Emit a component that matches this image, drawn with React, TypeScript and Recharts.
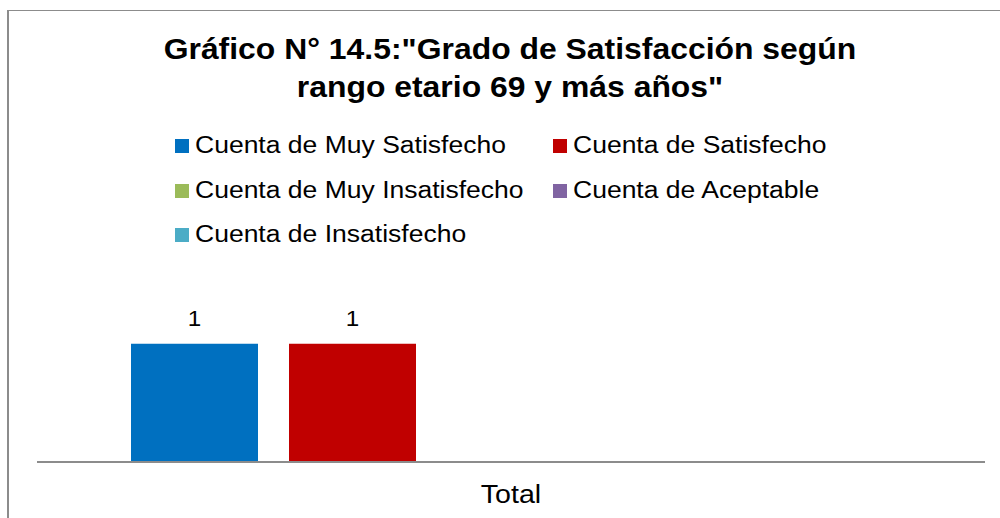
import React from 'react';
import { BarChart, Bar, XAxis, YAxis, Legend, LabelList } from 'recharts';

const categories = ['Total'];
const muySatisfecho = [1];
const satisfecho = [1];
const muyInsatisfecho = [0];
const aceptable = [0];
const insatisfecho = [0];

const series = [
  { key: 'muySatisfecho', name: 'Cuenta de Muy Satisfecho', color: '#0070C0', values: muySatisfecho },
  { key: 'satisfecho', name: 'Cuenta de Satisfecho', color: '#C00000', values: satisfecho },
  { key: 'muyInsatisfecho', name: 'Cuenta de Muy Insatisfecho', color: '#9BBB59', values: muyInsatisfecho },
  { key: 'aceptable', name: 'Cuenta de Aceptable', color: '#8064A2', values: aceptable },
  { key: 'insatisfecho', name: 'Cuenta de Insatisfecho', color: '#4BACC6', values: insatisfecho },
];

const data = categories.map((c, i) => {
  const row: Record<string, string | number> = { category: c };
  series.forEach((s) => {
    row[s.key] = s.values[i];
  });
  return row;
});

const font = '"Liberation Sans", Arial, sans-serif';
// the reference text is a little wider than plain Arial
const stretch = 1.1;

function LegendBox() {
  // two columns, like the Excel legend
  const colX = [175, 553];
  return (
    <div style={{ position: 'relative', width: 1000, height: 140 }}>
      {series.map((s, i) => {
        const col = i % 2;
        const row = Math.floor(i / 2);
        const top = row * 44.5;
        return (
          <React.Fragment key={s.key}>
            <span
              style={{
                position: 'absolute',
                left: colX[col],
                top: top + 9,
                width: 14,
                height: 14,
                background: s.color,
              }}
            />
            <span
              style={{
                position: 'absolute',
                left: colX[col] + 20,
                top,
                fontFamily: font,
                fontSize: 23.5,
                lineHeight: '30px',
                color: '#000',
                whiteSpace: 'nowrap',
                transform: 'scaleX(1.128)',
                transformOrigin: 'left center',
              }}
            >
              {s.name}
            </span>
          </React.Fragment>
        );
      })}
    </div>
  );
}

function TotalTick(props: any) {
  const { x, y, payload } = props;
  return (
    <text
      transform={`translate(${x},${y + 33}) scale(${stretch},1)`}
      textAnchor="middle"
      fontFamily={font}
      fontSize={26}
      fill="#000"
    >
      {payload.value}
    </text>
  );
}

function ValueLabel(props: any) {
  const { x, y, width, value } = props;
  if (!value) return null;
  return (
    <text
      transform={`translate(${x + width / 2},${y - 18}) scale(${stretch},1)`}
      textAnchor="middle"
      fontFamily={font}
      fontSize={22}
      fill="#000"
    >
      {value}
    </text>
  );
}

export default function App() {
  return (
    <div style={{ position: 'absolute', left: 0, top: 0, width: 1000, height: 518, background: '#fff', overflow: 'hidden' }}>
      <div
        style={{
          position: 'absolute',
          left: 7,
          top: 10,
          width: 993,
          height: 508,
          borderLeft: '2px solid #8c8c8c',
          borderTop: '1.5px solid #8c8c8c',
          boxSizing: 'border-box',
        }}
      />
      <div
        style={{
          position: 'absolute',
          left: 0,
          top: 30,
          width: 1020,
          textAlign: 'center',
          fontFamily: font,
          fontWeight: 'bold',
          fontSize: 29,
          lineHeight: '38px',
          color: '#000',
          transform: `scaleX(${stretch})`,
          transformOrigin: '510px 0',
        }}
      >
        Gráfico N° 14.5:"Grado de Satisfacción según
        <br />
        rango etario 69 y más años"
      </div>
      <BarChart
        width={1000}
        height={518}
        data={data}
        margin={{ top: 320, right: 15, bottom: 0, left: 37 }}
        barCategoryGap={94}
        barGap={31}
      >
        <XAxis
          dataKey="category"
          axisLine={{ stroke: '#8c8c8c', strokeWidth: 2 }}
          tickLine={false}
          tick={<TotalTick />}
          height={56}
        />
        <YAxis hide domain={[0, 1.2]} />
        <Legend
          layout="horizontal"
          verticalAlign="middle"
          align="center"
          wrapperStyle={{ position: 'absolute', top: 130, left: 0, width: 1000 }}
          content={() => <LegendBox />}
        />
        {series.map((s) => (
          <Bar key={s.key} dataKey={s.key} name={s.name} fill={s.color} isAnimationActive={false}>
            <LabelList dataKey={s.key} content={<ValueLabel />} />
          </Bar>
        ))}
      </BarChart>
    </div>
  );
}
